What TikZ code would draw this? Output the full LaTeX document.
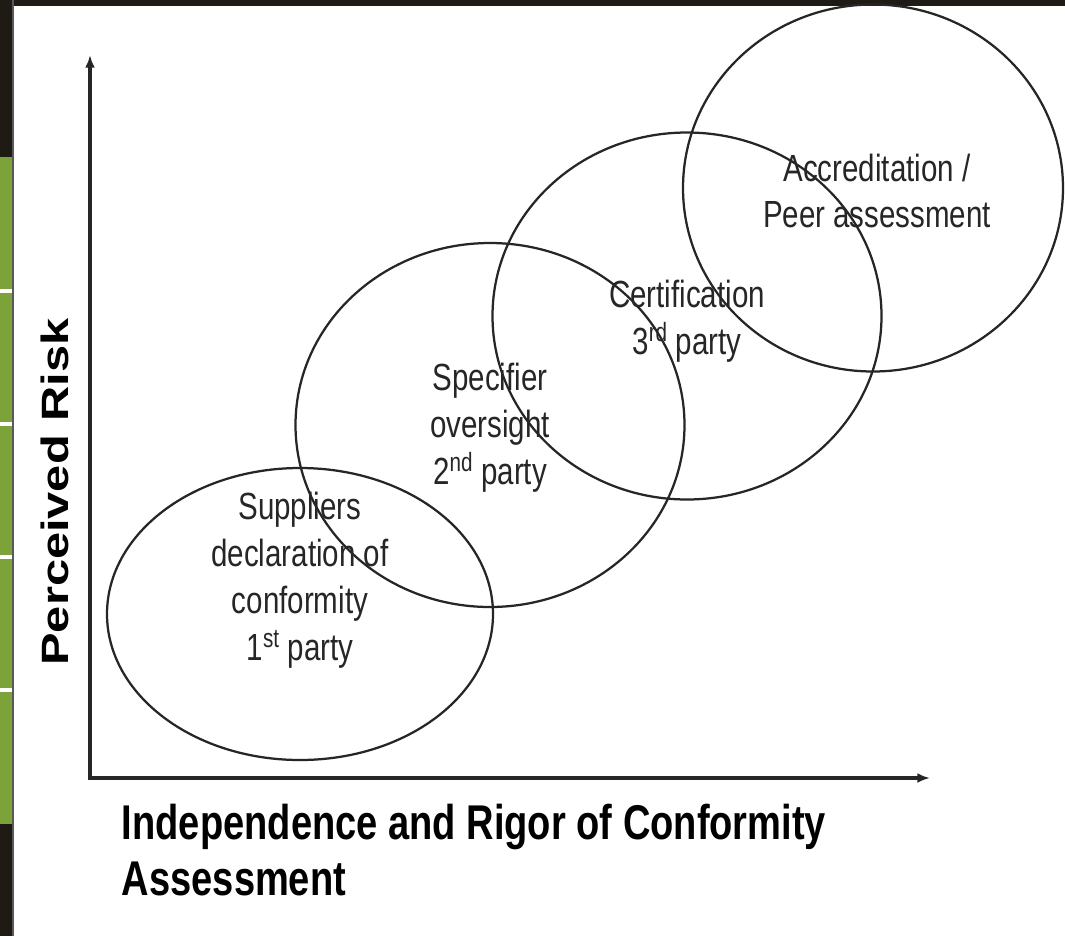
\documentclass[tikz,border=0pt]{standalone}
\usepackage{fontspec}
\setmainfont{Liberation Sans}
\usepackage{xcolor}
\usepackage{tikz}
\usetikzlibrary{arrows.meta, shapes.geometric}

\definecolor{framedark}{HTML}{1E1A14}
\definecolor{stripgreen}{HTML}{7CA23A}

\begin{document}
\begin{tikzpicture}[x=0.025cm, y=-0.025cm]
		\tikzstyle{ring} = [draw=black!85, ellipse, line width=1.6pt, inner sep=0pt, outer sep=0pt]
		\tikzstyle{ringtext} = [align=center, xscale=0.78, text=black!85, font=\fontsize{26.9}{33.3}\selectfont]
		\tikzstyle{axistext} = [align=left, xscale=0.78, font=\bfseries\fontsize{34.7}{40}\selectfont]
		\tikzstyle{axisline} = [draw=black!85, line width=2.4pt, {Latex[length=9pt,width=7pt]}-{Latex[length=9pt,width=7pt]}]
		
		% page and frame
		\useasboundingbox (0,0) rectangle (1065,936);
		\fill[white] (0,0) rectangle (1065,936);
		\fill[framedark] (0,0) rectangle (1065,6);
		\fill[framedark] (0,0) rectangle (12,936);
		\fill[stripgreen] (0,157) rectangle (12,824);
		\foreach \y in {291,424,557,690}
			\fill[white] (0,\y-2) rectangle (12,\y+2);
		\draw[black!65, line width=1.4pt] (13,0) -- (13,936);
		
		% circles
		\node[ring, minimum width=386*0.025cm, minimum height=292*0.025cm]	at (300, 614)	(e1) {};
		\node[ring, minimum width=389*0.025cm, minimum height=364*0.025cm]	at (490, 425)	(e2) {};
		\node[ring, minimum width=389*0.025cm, minimum height=367*0.025cm]	at (687, 316)	(e3) {};
		\node[ring, minimum width=380*0.025cm, minimum height=367*0.025cm]	at (873, 188)	(e4) {};
		
		\node[ringtext]	at (300, 580)	(t1) {Suppliers\\declaration of\\conformity\\1\textsuperscript{st} party};
		\node[ringtext]	at (490, 428)	(t2) {Specifier\\oversight\\2\textsuperscript{nd} party};
		\node[ringtext]	at (687, 321)	(t3) {Certification\\3\textsuperscript{rd} party};
		\node[ringtext]	at (877, 191)	(t4) {Accreditation /\\Peer assessment};
		
		% axes
		\coordinate (ytip) at (90, 55);
		\coordinate (origin) at (90, 778);
		\coordinate (xtip) at (930, 778);
		\draw[axisline] (ytip) -- (origin) -- (xtip);
		
		\node[axistext, anchor=west]	at (118, 850)	(xlabel) {Independence and Rigor of Conformity\\Assessment};
		\node[axistext, rotate=90]	at (55, 492)	(ylabel) {Perceived Risk};
	\end{tikzpicture}
\end{document}
